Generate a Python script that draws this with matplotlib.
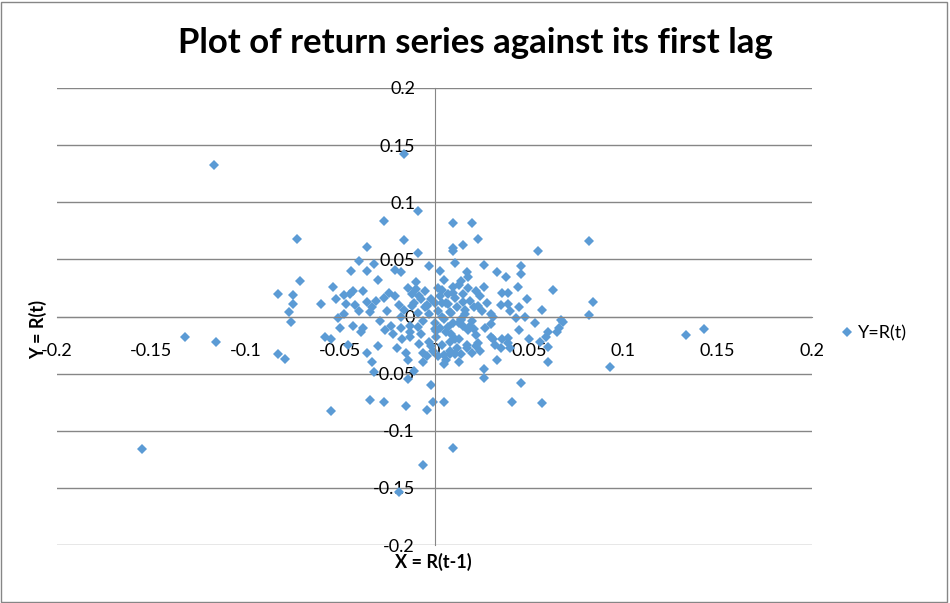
import matplotlib
matplotlib.use('Agg')
import matplotlib.pyplot as plt
from matplotlib.patches import Rectangle

plt.rcParams['font.family'] = ['Lato', 'DejaVu Sans']

# R(t-1) values
x_lag = [
    -0.117, -0.016, -0.009, -0.027, -0.016, -0.036, 0.010, 0.020, 0.023, 0.015,
    0.010, 0.055, -0.073, -0.071, -0.083, -0.075, -0.075, -0.077, -0.076, -0.132,
    -0.116, -0.083, -0.079, -0.155, 0.082, 0.084, 0.082, 0.133, 0.143, 0.093,
    -0.055, -0.034, -0.027, -0.015, -0.004, -0.001, -0.002, -0.014, -0.011, -0.014,
    -0.015, -0.032, -0.033, -0.036, -0.030, -0.006, 0.005, 0.041, 0.057, 0.046,
    0.026, 0.026, 0.033, 0.060, 0.010, -0.006, -0.019,
    # left of centre
    -0.040, -0.044, -0.036, -0.032, -0.030, -0.054, -0.048, -0.043, -0.038, -0.060,
    -0.047, -0.036, -0.031, -0.040, -0.051, -0.034, -0.029, -0.038, -0.058, -0.023,
    -0.018, -0.024, -0.021, -0.021, -0.018, -0.009, -0.003, -0.010, -0.012, -0.007,
    -0.004, -0.009, 0.000, -0.013, -0.039,
    # right of centre
    0.010, 0.011, 0.017, 0.026, 0.033, 0.038, 0.046, 0.046, 0.014, 0.004,
    0.010, 0.018, 0.022, 0.026, 0.036, 0.039, 0.044, 0.063, 0.039, 0.049,
    0.045, 0.057, 0.043, 0.007, 0.015, 0.023, 0.031, 0.030, 0.053, 0.067,
    0.066, 0.060, 0.030, 0.039, 0.007, 0.014, 0.021,
    # dense core
    0.002, 0.005, -0.003, 0.008, 0.010, 0.012, 0.003, -0.006, 0.015, 0.006,
    -0.002, 0.001, 0.009, 0.013, 0.004, 0.016, 0.018, -0.008, -0.011, -0.005,
    0.002, 0.007, 0.011, 0.019, 0.020, 0.022, 0.017, 0.008, 0.012, -0.003,
    -0.007, 0.000, 0.025, 0.027, 0.024, -0.013, -0.016, -0.019, -0.014, -0.010,
    0.005, 0.013, 0.018, 0.003, -0.005, 0.014, 0.021, 0.028, 0.030, 0.006,
    0.024, 0.032, 0.036, 0.040, -0.001, -0.004, -0.017, -0.022, -0.026, -0.020,
    -0.025, -0.027, -0.033, -0.042, -0.045, -0.048, -0.052, -0.043, -0.046, -0.050,
    -0.055,
    # lower core and right flank
    0.005, 0.008, 0.014, 0.020, 0.023, 0.031, 0.039, 0.011, 0.017, 0.022,
    0.059, 0.060, 0.065, 0.068, 0.056, 0.045, 0.050, 0.040, 0.035, 0.048,
    0.035, -0.008, 0.002, -0.013, -0.018, -0.006, 0.013, 0.004,
    # extra core fill
    0.004, 0.009, 0.001, -0.004, 0.011, 0.006, 0.016, -0.009, 0.003, 0.013,
    0.008, -0.002, 0.019, 0.015, 0.000, -0.012, 0.010, 0.005,
]

# R(t) values
y_ret = [
    0.133, 0.142, 0.092, 0.084, 0.067, 0.061, 0.082, 0.082, 0.068, 0.063,
    0.060, 0.057, 0.068, 0.031, 0.020, 0.019, 0.011, 0.004, -0.005, -0.018,
    -0.022, -0.033, -0.037, -0.116, 0.066, 0.013, 0.001, -0.016, -0.011, -0.044,
    -0.083, -0.073, -0.075, -0.078, -0.082, -0.075, -0.060, -0.055, -0.048, -0.038,
    -0.032, -0.049, -0.040, -0.032, -0.026, -0.032, -0.075, -0.075, -0.076, -0.058,
    -0.054, -0.046, -0.038, -0.040, -0.115, -0.130, -0.154,
    # left of centre
    0.049, 0.040, 0.040, 0.046, 0.032, 0.026, 0.019, 0.022, 0.022, 0.011,
    0.011, 0.013, 0.014, 0.005, -0.001, 0.004, -0.004, -0.010, -0.018, -0.008,
    0.000, 0.021, 0.018, 0.041, 0.039, 0.056, 0.044, 0.024, 0.009, 0.015,
    0.009, -0.009, -0.011, -0.014, -0.014,
    # right of centre
    0.057, 0.047, 0.039, 0.045, 0.039, 0.035, 0.044, 0.037, 0.031, 0.023,
    0.021, 0.025, 0.022, 0.026, 0.021, 0.021, 0.026, 0.023, 0.011, 0.015,
    0.008, 0.006, -0.001, 0.011, 0.013, 0.009, 0.000, -0.007, -0.006, -0.003,
    -0.010, -0.014, -0.018, -0.019, -0.009, -0.003, -0.011,
    # dense core
    0.005, -0.002, 0.002, 0.004, -0.006, 0.008, -0.010, -0.004, -0.008, 0.012,
    0.015, -0.018, -0.015, -0.020, -0.025, 0.002, -0.012, 0.018, 0.012, 0.022,
    0.025, 0.020, 0.016, 0.014, -0.004, -0.016, -0.025, -0.030, -0.028, -0.022,
    -0.015, -0.006, 0.005, -0.010, 0.018, -0.008, 0.006, 0.010, 0.025, 0.030,
    0.032, 0.028, 0.035, 0.040, 0.008, -0.002, 0.008, 0.012, 0.002, -0.038,
    -0.030, -0.025, -0.020, -0.028, -0.030, -0.035, -0.020, -0.015, -0.012, -0.028,
    0.005, 0.016, 0.008, 0.010, 0.020, 0.002, 0.015, -0.008, -0.025, -0.010,
    -0.020,
    # lower core and right flank
    -0.042, -0.033, -0.033, -0.032, -0.023, -0.020, -0.023, -0.033, -0.028, -0.026,
    -0.018, -0.027, -0.014, -0.005, -0.022, -0.012, -0.020, 0.005, 0.010, 0.000,
    -0.028, -0.024, -0.035, -0.018, -0.010, -0.040, -0.040, 0.012,
    # extra core fill
    0.000, 0.003, -0.013, 0.010, -0.020, -0.014, 0.006, 0.003, 0.018, -0.006,
    -0.022, -0.026, -0.008, 0.020, 0.012, 0.020, 0.026, -0.034,
]

yticks = [-0.2, -0.15, -0.1, -0.05, 0, 0.05, 0.1, 0.15, 0.2]
xticks = [-0.2, -0.15, -0.1, -0.05, 0, 0.05, 0.1, 0.15, 0.2]
tick_text = ['-0.2', '-0.15', '-0.1', '-0.05', '0', '0.05', '0.1', '0.15', '0.2']

grid_col = '#868686'
blue = '#5B9BD5'

fig = plt.figure(figsize=(9.5, 6.03), dpi=100)
ax = fig.add_axes([57 / 950, 1 - 545 / 603, 755 / 950, 457 / 603])

ax.plot(x_lag, y_ret, linestyle='none', marker='D', markersize=5.4,
        markeredgewidth=0, color=blue, label='Y=R(t)')

ax.set_xlim(-0.2, 0.2)
ax.set_ylim(-0.2, 0.2)
ax.set_xticks(xticks)
ax.set_xticklabels(tick_text)
ax.set_yticks(yticks)
ax.set_yticklabels(tick_text)

for side in ['top', 'right']:
    ax.spines[side].set_visible(False)
ax.spines['left'].set_position('zero')
ax.spines['bottom'].set_position('zero')
ax.spines['left'].set_color(grid_col)
ax.spines['bottom'].set_color(grid_col)
ax.yaxis.grid(True, color=grid_col, linewidth=1)
ax.set_axisbelow(True)
ax.tick_params(length=0, labelsize=13, colors='black')
ax.tick_params(axis='y', pad=14)
ax.tick_params(axis='x', pad=19)

fig.text(0.5, 1 - 43 / 603, 'Plot of return series against its first lag',
         ha='center', va='center', fontsize=25, fontweight='bold')
fig.text(433 / 950, 1 - 562 / 603, 'X = R(t-1)', ha='center', va='center',
         fontsize=13, fontweight='bold')
fig.text(38 / 950, 1 - 330 / 603, 'Y = R(t)', ha='center', va='center',
         rotation=90, fontsize=13, fontweight='bold')

fig.legend(loc='center left', bbox_to_anchor=(834 / 950, 1 - 333 / 603),
           frameon=False, fontsize=13, handlelength=0.6, handletextpad=0.3,
           borderaxespad=0)

fig.patches.append(Rectangle((0.001, 0.002), 0.996, 0.994, transform=fig.transFigure,
                             fill=False, edgecolor=grid_col, linewidth=1))

fig.savefig('out.png', dpi=100)
